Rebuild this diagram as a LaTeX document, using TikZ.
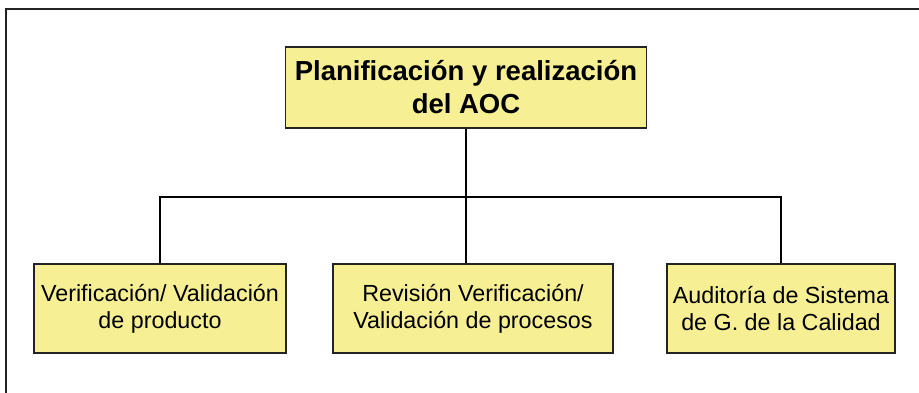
\documentclass[tikz,border=0pt]{standalone}
\usepackage{fontspec}
\setmainfont{Liberation Sans}
\usepackage{xcolor}
\usepackage{tikz}
\usetikzlibrary{positioning}

\definecolor{boxfill}{RGB}{246,239,147}
\definecolor{boxline}{RGB}{35,35,35}

\begin{document}
\begin{tikzpicture}[x=1pt, y=1pt,
		topbox/.style={rectangle, draw=boxline, fill=boxfill, line width=1.6pt, inner sep=0pt,
			minimum width=361pt, minimum height=81pt, align=center,
			font={\fontsize{27.5}{33}\selectfont\bfseries}},
		subbox/.style={rectangle, draw=boxline, fill=boxfill, line width=1.6pt, inner sep=0pt,
			minimum height=89pt, align=center,
			font={\fontsize{23.3}{27}\selectfont}},
		link/.style={draw=black, line width=1.7pt}]
		\useasboundingbox (0,0) rectangle (919,392);
		\draw[boxline, line width=1.3pt] (6,383) rectangle (930,-10);

		\node[topbox] (plan) at (466,304.5) {Planificación y realización\\del AOC};

		\node[subbox, minimum width=252pt] (verif) at (160,83.5) {Verificación/ Validación\\de producto};
		\node[subbox, minimum width=280pt] (revis) at (473,83.5) {Revisión Verificación/\\Validación de procesos};
		\node[subbox, minimum width=228pt] (audit) at (781,83.5) {Auditoría de Sistema\\de G. de la Calidad};

		\coordinate (bar) at (466,195);

		\draw[link] (plan) -- (plan |- revis.north);
		\draw[link] (verif) |- (bar) -| (audit);
	\end{tikzpicture}
\end{document}
